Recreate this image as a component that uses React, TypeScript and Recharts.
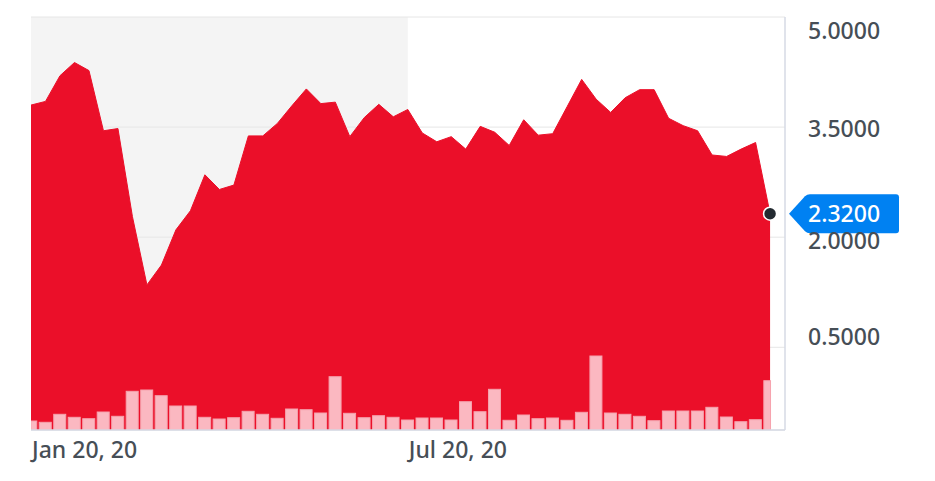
import { ComposedChart, Area, Bar, XAxis, YAxis, CartesianGrid, ReferenceArea, ReferenceLine } from 'recharts'

// weekly closes, starting Jan 20, 2020
const prices = [
  3.8, 3.85, 4.2, 4.38, 4.27, 3.45, 3.48, 2.28, 1.35, 1.62, 2.1, 2.36, 2.85,
  2.65, 2.71, 3.38, 3.38, 3.55, 3.79, 4.02, 3.82, 3.84, 3.37, 3.63, 3.81, 3.64,
  3.74, 3.42, 3.3, 3.37, 3.2, 3.51, 3.43, 3.25, 3.6, 3.39, 3.41, 3.78, 4.15,
  3.88, 3.7, 3.9, 4.01, 4.01, 3.62, 3.52, 3.45, 3.12, 3.1, 3.2, 3.29, 2.32,
]

// weekly volume (thousands)
const volumes = [
  90, 77, 157, 127, 113, 180, 137, 387, 400, 343, 240, 240, 127,
  110, 123, 187, 157, 117, 210, 203, 170, 533, 167, 123, 143, 127,
  100, 120, 120, 100, 283, 183, 407, 97, 150, 113, 120, 97, 177,
  740, 170, 157, 137, 93, 190, 190, 190, 227, 130, 83, 103, 493,
]

const xTickIndex = [0, 26]
const xTickLabels = ['Jan 20, 20', 'Jul 20, 20']
const yTicks = [0.5, 2, 3.5, 5]
const lastPrice = prices[prices.length - 1]

const data = prices.map((p, i) => ({ i, price: p, volume: volumes[i] }))

const FONT = '"Noto Sans", "Open Sans", sans-serif'
const TEXT = '#464e56'
const AXIS = '#d6dae4'
const labelShift = [-2, 12, 10, 22]

const XTick = (props: any) => {
  const { x, y, index } = props
  return (
    <text x={x + 1} y={y} textAnchor="start" fontFamily={FONT} fontSize={23} fontWeight={500} fill={TEXT}>
      {xTickLabels[index]}
    </text>
  )
}

const YTick = (props: any) => {
  const { x, y, payload, index } = props
  return (
    <text x={x} y={y + labelShift[index]} textAnchor="start" fontFamily={FONT} fontSize={23} fontWeight={500} fill={TEXT}>
      {Number(payload.value).toFixed(4)}
    </text>
  )
}

const VolumeBar = (props: any) => {
  const { x, y, width, height, index } = props
  let left = x
  let w = width
  if (index === 0) {
    left = x + width / 2
    w = width / 2
  }
  if (index === volumes.length - 1) w = width / 2 + 0.7
  return <rect x={left} y={y} width={w} height={height} fill="#fbb8c1" stroke="#f6a2ad" strokeWidth={1} />
}

const EndDot = (props: any) => {
  const { cx, cy, index } = props
  if (index !== prices.length - 1) return <g key={`d${index}`} />
  return <circle key={`d${index}`} cx={cx} cy={cy} r={6.5} fill="#232a31" stroke="#fff" strokeWidth={1.5} />
}

const PriceTag = (props: any) => {
  const { viewBox } = props
  const x0 = viewBox.x + viewBox.width
  const y0 = viewBox.y
  const l = x0 + 22
  const r = x0 + 114
  const t = y0 - 19.5
  const b = y0 + 19.5
  const d = `M ${x0 + 4} ${y0} L ${l - 2} ${t + 2} Q ${l} ${t} ${l + 3} ${t} H ${r - 3} Q ${r} ${t} ${r} ${t + 3} V ${b - 3} Q ${r} ${b} ${r - 3} ${b} H ${l + 3} Q ${l} ${b} ${l - 2} ${b - 2} Z`
  return (
    <g>
      <path d={d} fill="#0081f2" />
      <text x={l + 1} y={y0 + 8} fontFamily={FONT} fontSize={23} fontWeight={500} fill="#fff">
        {lastPrice.toFixed(4)}
      </text>
    </g>
  )
}

export default function App() {
  return (
    <div style={{ position: 'absolute', left: 0, top: 0, width: 935, height: 481, background: '#fff' }}>
      <ComposedChart width={935} height={481} data={data} margin={{ top: 17, right: 0, bottom: 0, left: 31 }}>
        <ReferenceArea
          yAxisId="price"
          x1={0}
          x2={26}
          y1={-0.627}
          y2={5}
          fill="#f4f4f4"
          fillOpacity={1}
          stroke="none"
          zIndex={-150}
        />
        <CartesianGrid yAxisId="price" vertical={false} stroke="#e6e6e6" />
        <XAxis
          dataKey="i"
          type="number"
          domain={[0, 52.03]}
          allowDataOverflow
          ticks={xTickIndex}
          interval={0}
          height={51}
          axisLine={{ stroke: AXIS, strokeWidth: 1.5 }}
          tickLine={false}
          tickSize={0}
          tickMargin={28}
          tick={<XTick />}
        />
        <YAxis
          yAxisId="price"
          orientation="right"
          type="number"
          domain={[-0.627, 5]}
          allowDataOverflow
          ticks={yTicks}
          interval={0}
          width={150}
          axisLine={{ stroke: AXIS, strokeWidth: 1.5 }}
          tickLine={false}
          tickSize={0}
          tickMargin={23}
          tick={<YTick />}
        />
        <YAxis yAxisId="vol" hide domain={[0, 4130]} allowDataOverflow />
        <Area
          yAxisId="price"
          dataKey="price"
          type="linear"
          baseValue="dataMin"
          fill="#eb0f29"
          fillOpacity={1}
          stroke="#eb0f29"
          strokeWidth={1}
          dot={EndDot}
          activeDot={false}
          isAnimationActive={false}
        />
        <Bar yAxisId="vol" dataKey="volume" barSize={12} shape={VolumeBar} isAnimationActive={false} />
        <ReferenceLine yAxisId="price" y={lastPrice} stroke="none" label={<PriceTag />} />
      </ComposedChart>
    </div>
  )
}
